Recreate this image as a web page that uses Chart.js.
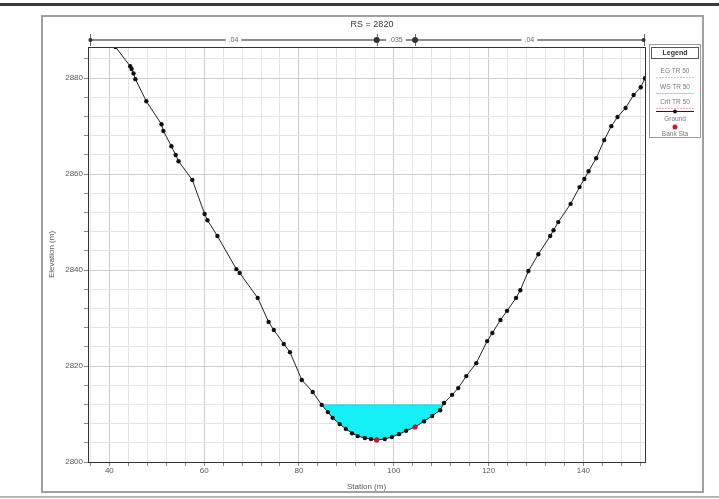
<!DOCTYPE html>
<html>
<head>
<meta charset="utf-8">
<script src="https://cdn.jsdelivr.net/npm/chart.js@4/dist/chart.umd.min.js"></script>
<style>
html, body { margin: 0; padding: 0; background: #fff; }
#wrap { position: relative; width: 719px; height: 499px; }
</style>
</head>
<body>
<div id="wrap"><canvas id="chart" width="719" height="499"></canvas></div>
<script>
const chartTitle = 'RS = 2820'
const stations = [41.3, 44.4, 44.7, 45.1, 45.5, 47.8, 51.0, 51.4, 53.1, 54.0, 54.6, 57.5, 60.1, 60.7, 62.8,
	66.8, 67.5, 71.3, 73.6, 74.7, 76.8, 78.1, 80.6, 82.9, 84.8, 86.1, 87.1, 88.6, 89.9, 91.2, 92.4, 93.9,
	95.2, 96.4, 98.1, 99.6, 101.1, 102.6, 104.5, 106.4, 108.1, 109.8, 110.6, 112.3, 113.6, 115.3, 117.4,
	119.7, 120.8, 122.5, 123.9, 125.8, 126.7, 128.4, 130.5, 133.0, 133.7, 134.7, 137.3, 139.2, 140.2,
	141.1, 142.7, 144.4, 145.9, 147.2, 148.9, 150.6, 152.1, 153.0]
const elevations = [2886.5, 2882.5, 2881.9, 2881.0, 2879.8, 2875.2, 2870.4, 2869.0, 2865.8, 2864.0, 2862.7,
	2858.8, 2851.7, 2850.4, 2847.1, 2840.2, 2839.4, 2834.2, 2829.2, 2827.5, 2824.6, 2822.9, 2817.1, 2814.6,
	2811.9, 2810.4, 2809.2, 2807.9, 2806.9, 2806.0, 2805.4, 2805.0, 2804.8, 2804.6, 2804.8, 2805.2, 2805.8,
	2806.5, 2807.3, 2808.5, 2809.6, 2810.8, 2812.3, 2814.0, 2815.4, 2817.9, 2820.6, 2825.2, 2826.9, 2829.6,
	2831.5, 2834.2, 2835.8, 2839.8, 2843.3, 2847.1, 2848.3, 2850.0, 2853.8, 2857.3, 2859.0, 2860.6, 2863.3,
	2867.1, 2870.0, 2871.9, 2873.8, 2876.5, 2878.1, 2880.0]
const bankStations = [96.4, 104.5]
const bankElevations = [2804.6, 2807.3]
const wsStations = [84.8, 110.3]
const wsElevation = 2811.9
const nValues = ['.04', '.035', '.04']
const nBreaks = [36.0, 96.4, 104.5, 152.7]
const xTickLabels = [40, 60, 80, 100, 120, 140]
const yTickLabels = [2800, 2820, 2840, 2860, 2880]
const legendLabels = ['EG TR 50', 'WS TR 50', 'Crit TR 50', 'Ground', 'Bank Sta']

const FONT = "'Liberation Sans', Arial, sans-serif"

const decor = {
	id: 'decor',
	beforeDraw(chart) {
		const ctx = chart.ctx
		ctx.save()
		ctx.fillStyle = '#fff'
		ctx.fillRect(0, 0, chart.width, chart.height)
		// page rules and frame
		ctx.fillStyle = '#3c3c3c'
		ctx.fillRect(0, 3, chart.width, 3)
		ctx.fillStyle = '#b4b4b4'
		ctx.fillRect(0, 496, chart.width, 2)
		ctx.strokeStyle = '#a0a0a0'
		ctx.lineWidth = 2
		ctx.strokeRect(42, 16, 661, 476)
		ctx.restore()
	},
	afterDraw(chart) {
		const ctx = chart.ctx
		const a = chart.chartArea
		const xs = chart.scales.x
		ctx.save()
		ctx.strokeStyle = '#333'
		ctx.lineWidth = 1
		ctx.strokeRect(a.left + 0.5, a.top + 0.5, a.right - a.left, a.bottom - a.top)

		ctx.fillStyle = '#333'
		ctx.font = '9px ' + FONT
		ctx.textAlign = 'center'
		ctx.textBaseline = 'middle'
		ctx.fillText(chartTitle, 372, 25)

		// manning's n line
		const y = 40
		const px = nBreaks.map(s => xs.getPixelForValue(s))
		ctx.strokeStyle = '#666'
		ctx.lineWidth = 1.5
		ctx.beginPath()
		ctx.moveTo(px[0], y)
		ctx.lineTo(px[3], y)
		ctx.stroke()
		ctx.lineWidth = 1
		px.forEach((p, i) => {
			ctx.beginPath()
			ctx.moveTo(Math.round(p) + 0.5, y - 6)
			ctx.lineTo(Math.round(p) + 0.5, y + 6)
			ctx.stroke()
			ctx.fillStyle = '#333'
			ctx.beginPath()
			ctx.arc(p, y, i === 0 || i === 3 ? 2 : 3, 0, Math.PI * 2)
			ctx.fill()
		})
		ctx.font = '7px ' + FONT
		nValues.forEach((t, i) => {
			const cx = (px[i] + px[i + 1]) / 2
			const w = ctx.measureText(t).width + 6
			ctx.fillStyle = '#fff'
			ctx.fillRect(cx - w / 2, y - 4, w, 8)
			ctx.fillStyle = '#666'
			ctx.fillText(t, cx, y)
		})

		// legend
		ctx.strokeStyle = '#999'
		ctx.strokeRect(649.5, 44.5, 51, 93)
		ctx.strokeStyle = '#555'
		ctx.strokeRect(651.5, 47.5, 47, 11)
		ctx.fillStyle = '#333'
		ctx.font = 'bold 7px ' + FONT
		ctx.fillText('Legend', 675, 53)
		ctx.font = '6.5px ' + FONT
		ctx.fillStyle = '#777'
		const ly = [71, 87, 102, 119, 134]
		const lc = ['#c4c4c4', '#7fe6ee', '#eeb0b0']
		legendLabels.forEach((t, i) => {
			ctx.fillText(t, 675, ly[i])
		})
		lc.forEach((c, i) => {
			ctx.strokeStyle = c
			ctx.setLineDash(i === 1 ? [] : [2, 1])
			ctx.beginPath()
			ctx.moveTo(656, ly[i] + 6.5)
			ctx.lineTo(694, ly[i] + 6.5)
			ctx.stroke()
		})
		ctx.setLineDash([])
		ctx.strokeStyle = '#222'
		ctx.beginPath()
		ctx.moveTo(656, 111.5)
		ctx.lineTo(694, 111.5)
		ctx.stroke()
		ctx.fillStyle = '#111'
		ctx.beginPath()
		ctx.arc(675, 111.5, 2, 0, Math.PI * 2)
		ctx.fill()
		ctx.fillStyle = '#d81030'
		ctx.beginPath()
		ctx.arc(675, 127, 2.5, 0, Math.PI * 2)
		ctx.fill()
		ctx.restore()
	}
}

const gridColor = ctx => {
	if (!ctx.tick) return '#e6e6e6'
	return Math.abs(ctx.tick.value % 20) < 0.01 ? '#cdcdcd' : '#e4e4e4'
}

new Chart(document.getElementById('chart'), {
	type: 'line',
	data: {
		datasets: [{
			label: 'Bank Sta',
			data: bankStations.map((s, i) => ({x: s, y: bankElevations[i]})),
			showLine: false,
			pointRadius: 2.6,
			pointBackgroundColor: '#d81030',
			pointBorderWidth: 0,
		}, {
			label: 'Ground',
			data: stations.map((s, i) => ({x: s, y: elevations[i]})),
			borderColor: '#222',
			borderWidth: 1,
			pointRadius: 2.2,
			pointBackgroundColor: '#111',
			pointBorderWidth: 0,
			tension: 0,
			fill: false,
		}, {
			label: 'WS',
			data: wsStations.map(s => ({x: s, y: wsElevation})),
			borderColor: '#10d8e6',
			borderWidth: 1,
			pointRadius: 0,
			fill: {target: 1, above: '#14f0f6', below: '#14f0f6'},
		}],
	},
	options: {
		responsive: false,
		animation: false,
		layout: {
			padding: {left: 42, top: 47, right: 74, bottom: 7},
		},
		plugins: {
			legend: {display: false},
			tooltip: {enabled: false},
		},
		scales: {
			x: {
				type: 'linear',
				min: 35.5,
				max: 153,
				afterBuildTicks: s => {
					s.ticks = []
					for (let v = 36; v <= 152; v += 4) s.ticks.push({value: v})
				},
				afterFit: s => { s.height = 30 },
				ticks: {
					autoSkip: false,
					maxRotation: 0,
					padding: 0,
					color: '#555',
					font: {size: 8, family: FONT},
					callback: v => xTickLabels.includes(v) ? String(v) : '',
				},
				grid: {color: gridColor, tickLength: 4, tickColor: '#888'},
				border: {color: '#333'},
				title: {display: true, text: 'Station (m)', padding: 0, color: '#555', font: {size: 8, family: FONT}},
			},
			y: {
				type: 'linear',
				min: 2800,
				max: 2886.5,
				afterBuildTicks: s => {
					s.ticks = []
					for (let v = 2800; v <= 2884; v += 4) s.ticks.push({value: v})
				},
				afterFit: s => { s.width = 46 },
				ticks: {
					autoSkip: false,
					padding: 1,
					color: '#555',
					font: {size: 8, family: FONT},
					callback: v => yTickLabels.includes(v) ? String(v) : '',
				},
				grid: {color: gridColor, tickLength: 4, tickColor: '#888'},
				border: {color: '#333'},
				title: {display: true, text: 'Elevation (m)', padding: {top: 5, bottom: 0}, color: '#555', font: {size: 8, family: FONT}},
			},
		},
	},
	plugins: [decor],
})
</script>
</body>
</html>
